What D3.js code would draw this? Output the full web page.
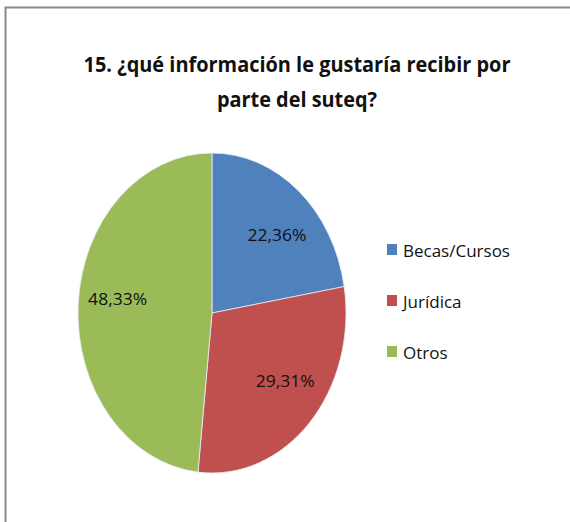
<!DOCTYPE html>
<html>
<head>
<meta charset="utf-8">
<script src="https://cdn.jsdelivr.net/npm/d3@7"></script>
<style>
  body { margin: 0; background: white; }
  svg { display: block; }
</style>
</head>
<body>
<div id="chart"></div>
<script>
// Les données du graphique
const categories = ["Becas/Cursos", "Jurídica", "Otros"]
const valeurs = [22.36, 29.31, 48.33]
const etiquettes = ["22,36%", "29,31%", "48,33%"]
const couleurs = ["#4F81BD", "#C0504D", "#9BBB59"]
const titre = ["15. ¿qué información le gustaría recibir por", "parte del suteq?"]

const largeur = 570, hauteur = 522

const svg = d3.select("#chart")
   .append("svg")
   .attr("width", largeur)
   .attr("height", hauteur)

// Cadre gris (seulement haut et gauche sont visibles)
svg.append("rect")
   .attr("x", 5.5)
   .attr("y", 7.5)
   .attr("width", 600)
   .attr("height", 600)
   .attr("fill", "white")
   .attr("stroke", "#8a8a8a")
   .attr("stroke-width", 2)

// Titre (deux lignes centrées)
const lignesTitre = [{t: titre[0], y: 72, w: 427}, {t: titre[1], y: 107, w: 160}]
svg.selectAll("text.titre")
   .data(lignesTitre)
   .enter()
   .append("text")
   .attr("class", "titre")
   .attr("x", 297)
   .attr("y", d => d.y)
   .attr("text-anchor", "middle")
   .attr("font-family", "Open Sans, sans-serif")
   .attr("font-weight", "bold")
   .attr("font-size", 22)
   .attr("textLength", d => d.w)
   .attr("lengthAdjust", "spacingAndGlyphs")
   .attr("fill", "#111")
   .text(d => d.t)

// Camembert (légèrement elliptique comme l'original)
const cx = 212, cy = 313, rx = 134, ry = 160
const pie = d3.pie().sort(null).value(d => d)
const arcs = pie(valeurs)
const arc = d3.arc().innerRadius(0).outerRadius(rx)

const g = svg.append("g")
   .attr("transform", `translate(${cx},${cy}) scale(1,${ry / rx})`)

g.selectAll("path")
   .data(arcs)
   .enter()
   .append("path")
   .attr("d", arc)
   .attr("fill", (d, i) => couleurs[i])
   .attr("stroke", "#e8eef6")
   .attr("stroke-width", 0.8)
   .attr("vector-effect", "non-scaling-stroke")

// Étiquettes des pourcentages (position au milieu de l'angle de la part)
const kx = 0.75, ky = 0.63
function posEtiquette(d) {
   const a = (d.startAngle + d.endAngle) / 2
   let x = cx + Math.sin(a) * rx * kx
   let y = cy - Math.cos(a) * ry * ky
   // La grande part verte : étiquette un peu plus vers l'intérieur et vers le haut
   if (d.index === 2) { x += 6; y -= 8 }
   return [x, y]
}

svg.selectAll("text.pct")
   .data(arcs)
   .enter()
   .append("text")
   .attr("class", "pct")
   .attr("x", d => posEtiquette(d)[0])
   .attr("y", d => posEtiquette(d)[1] + 5)
   .attr("text-anchor", "middle")
   .attr("font-family", "Open Sans, sans-serif")
   .attr("font-size", 16)
   .attr("textLength", 59)
   .attr("lengthAdjust", "spacingAndGlyphs")
   .attr("fill", "#111")
   .text((d, i) => etiquettes[i])

// Légende
const leg = svg.selectAll("g.leg")
   .data(categories)
   .enter()
   .append("g")
   .attr("class", "leg")
   .attr("transform", (d, i) => `translate(387,${244 + i * 51})`)

leg.append("rect")
   .attr("width", 10)
   .attr("height", 11)
   .attr("fill", (d, i) => couleurs[i])

leg.append("text")
   .attr("x", 16)
   .attr("y", 13)
   .attr("font-family", "Open Sans, sans-serif")
   .attr("font-size", 17)
   .attr("fill", "#111")
   .text(d => d)
</script>
</body>
</html>
